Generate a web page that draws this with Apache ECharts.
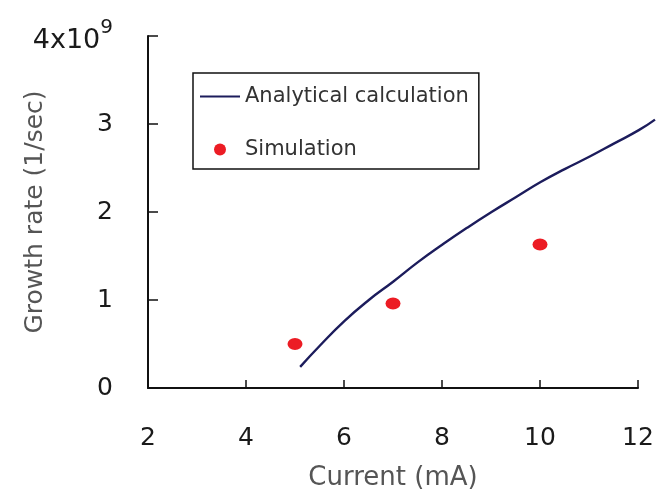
<!DOCTYPE html>
<html>
<head>
<meta charset="utf-8">
<script src="https://cdn.jsdelivr.net/npm/echarts@6/dist/echarts.min.js"></script>
<style>html,body{margin:0;padding:0;background:#fff}#c{width:661px;height:491px}</style>
</head>
<body>
<div id="c"></div>
<script>
// Analytical calculation curve (current in mA, growth rate in 1e9 /sec)
const calcCurrent = [5.1, 5.5, 6, 6.5, 7, 7.5, 8, 8.5, 9, 9.5, 10, 10.5, 11, 11.5, 12, 12.33];
const calcRate    = [0.24, 0.48, 0.76, 1.00, 1.21, 1.43, 1.63, 1.82, 2.00, 2.17, 2.34, 2.49, 2.63, 2.78, 2.93, 3.05];
// Simulation points
const simCurrent = [5, 7, 10];
const simRate    = [0.5, 0.96, 1.63];
// Axis tick labels
const xTicks = [2, 4, 6, 8, 10, 12];
const yTicks = ['0', '1', '2', '3', '4x10^9'];

const chart = echarts.init(document.getElementById('c'));
const font = 'DejaVu Sans, Verdana, sans-serif';
const lineColor = '#1c1c5c';
chart.setOption({
  animation: false,
  grid: [
    {left: 148, top: 36, right: 23, bottom: 103, containLabel: false, outerBoundsMode: 'none'},
    {left: 148, top: 36, right: 6, bottom: 103, containLabel: false, outerBoundsMode: 'none'}
  ],
  legend: {
    orient: 'vertical', left: 193, top: 73,
    padding: [13, 10, 9, 7], itemGap: 32, itemWidth: 40, itemHeight: 12,
    borderColor: '#111', borderWidth: 1.5,
    textStyle: {fontFamily: font, fontSize: 21, color: '#333'},
    data: [
      {name: 'Analytical calculation', icon: 'path://M0 0H40V2H0Z', itemStyle: {color: lineColor}},
      {name: 'Simulation', icon: 'circle'}
    ]
  },
  xAxis: [{
    type: 'value', gridIndex: 0, min: 2, max: 12, interval: 2,
    name: 'Current (mA)', nameLocation: 'middle', nameGap: 77, nameMoveOverlap: false,
    nameTextStyle: {fontFamily: font, fontSize: 26, color: '#555'},
    axisLine: {lineStyle: {color: '#111', width: 2}},
    axisTick: {inside: true, length: 8, lineStyle: {color: '#111', width: 1.5}},
    axisLabel: {margin: 38, fontFamily: font, fontSize: 25, color: '#1a1a1a',
      formatter: v => { const i = xTicks.indexOf(v); return i >= 0 ? String(xTicks[i]) : ''; }},
    splitLine: {show: false}
  }, {
    type: 'value', gridIndex: 1, min: 2, max: 12.33, show: false, splitLine: {show: false}
  }],
  yAxis: [{
    type: 'value', gridIndex: 0, min: 0, max: 4, interval: 1,
    name: 'Growth rate (1/sec)', nameLocation: 'middle', nameGap: 100, nameMoveOverlap: false,
    nameTextStyle: {fontFamily: font, fontSize: 25, color: '#555'},
    axisLine: {show: true, lineStyle: {color: '#111', width: 2}},
    axisTick: {show: true, inside: true, length: 10, lineStyle: {color: '#111', width: 1.5}},
    axisLabel: {margin: 35, fontFamily: font, fontSize: 25, color: '#1a1a1a',
      formatter: v => {
        const t = yTicks[v];
        if (t && t.indexOf('^') >= 0) { const p = t.split('^'); return '{b|' + p[0] + '}{s|' + p[1] + '}'; }
        return t || '';
      },
      rich: {
        b: {fontFamily: font, fontSize: 27, color: '#1a1a1a', padding: [10, 0, 0, 0]},
        s: {fontFamily: font, fontSize: 20, color: '#1a1a1a', verticalAlign: 'top', padding: [0, 0, 8, 0]}
      }
    },
    splitLine: {show: false}
  }, {
    type: 'value', gridIndex: 1, min: 0, max: 4, show: false, splitLine: {show: false}
  }],
  series: [
    {
      name: 'Analytical calculation', type: 'line', smooth: true,
      xAxisIndex: 1, yAxisIndex: 1,
      symbol: 'none', showSymbol: false,
      lineStyle: {color: lineColor, width: 2.4}, itemStyle: {color: lineColor},
      data: calcCurrent.map((x, i) => [x, calcRate[i]])
    },
    {
      name: 'Simulation', type: 'scatter', symbol: 'circle', symbolSize: [15, 12],
      xAxisIndex: 0, yAxisIndex: 0,
      itemStyle: {color: '#ec1c24', opacity: 1},
      data: simCurrent.map((x, i) => [x, simRate[i]])
    }
  ]
});
</script>
</body>
</html>
